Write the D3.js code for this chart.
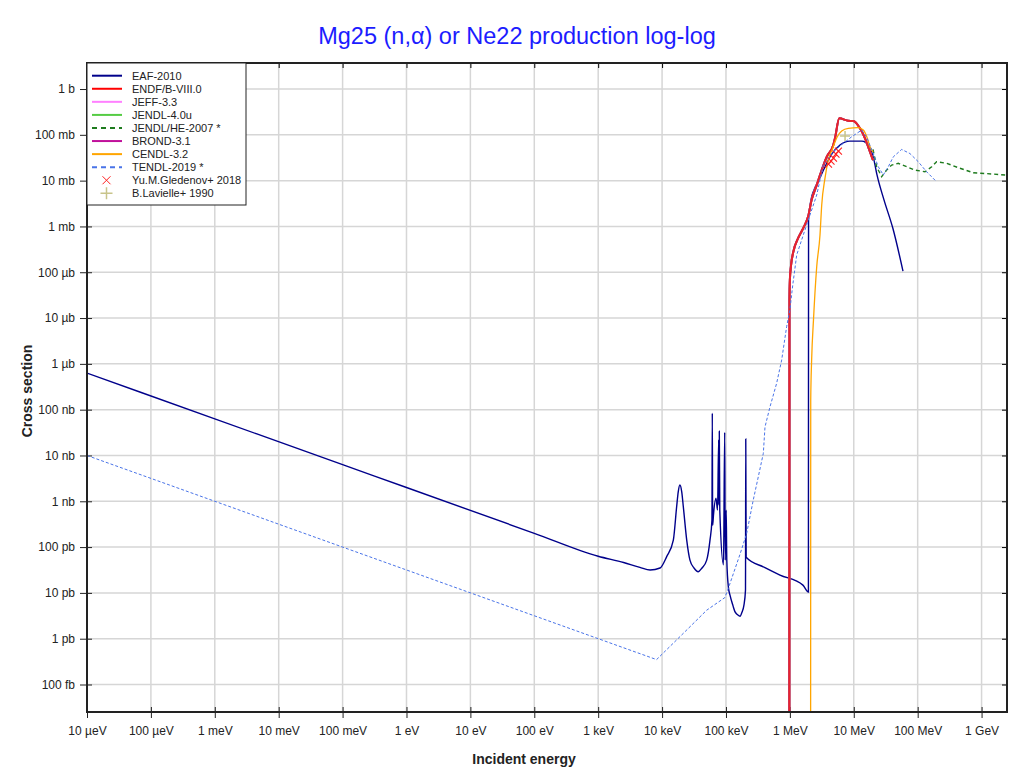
<!DOCTYPE html>
<html>
<head>
<meta charset="utf-8">
<script src="https://cdnjs.cloudflare.com/ajax/libs/d3/7.8.5/d3.min.js"></script>
<style>
	body { margin: 0; background: #fff; }
	text { font-family: "Liberation Sans", Arial, sans-serif; }
</style>
</head>
<body>
<script>
// energies in eV, cross sections in barn

// EAF-2010
var eafE = [1e-5, 1e-3, 1e-1, 1, 1e2, 1e3, 2.5e3, 4.5e3, 6.5e3, 9.3e3, 1.18e4, 1.50e4, 1.69e4, 1.79e4, 1.9e4, 2.03e4, 2.15e4, 2.43e4, 2.73e4,
	3.16e4, 3.68e4, 4.21e4, 4.99e4, 5.62e4, 6.03e4, 6.11e4, 6.19e4, 6.37e4, 6.98e4, 7.37e4, 7.69e4, 7.77e4, 7.86e4, 8.0e4,
	9.14e4, 9.55e4, 9.72e4, 1.007e5, 1.03e5, 1.09e5, 1.156e5, 1.29e5, 1.38e5, 1.49e5, 1.66e5, 1.78e5, 1.91e5, 2.02e5,
	2.04e5, 2.07e5, 4.0e5, 7.0e5, 1.6e6, 1.95e6, 1.96e6, 2.14e6, 2.38e6, 2.85e6, 3.42e6, 4.40e6, 6.08e6, 8.7e6, 1.34e7, 1.73e7,
	2.07e7, 2.31e7, 2.97e7, 4.10e7, 5.89e7];
var eafXs = [6.3e-7, 6.3e-8, 6.3e-9, 2.0e-9, 2.0e-10, 6.3e-11, 4.6e-11, 3.6e-11, 3.16e-11, 3.5e-11, 6.2e-11, 1.42e-10, 7.6e-10, 1.61e-9, 2.26e-9, 1.61e-9, 7.6e-10, 1.42e-10, 5.2e-11,
	3.5e-11, 2.9e-11, 3.5e-11, 5.2e-11, 1.42e-10, 3.9e-10, 8.4e-8, 3.0e-10, 5.0e-10, 1.17e-9, 6.4e-10, 2.2e-8, 8.3e-10, 3.4e-8, 6.4e-10,
	4.1e-11, 3.2e-8, 5.2e-11, 6.4e-10, 5.2e-11, 1.34e-11, 8.9e-12, 5.2e-12, 3.9e-12, 3.4e-12, 3.1e-12, 3.8e-12, 5.4e-12, 1.15e-11,
	2.3e-8, 6.0e-11, 3.6e-11, 2.45e-11, 1.48e-11, 1.04e-11, 1.38e-3, 3.8e-3, 6.2e-3, 1.03e-2, 1.79e-2, 3.6e-2, 6.0e-2, 7.3e-2, 7.3e-2, 5.7e-2,
	2.8e-2, 1.33e-2, 3.8e-3, 9.0e-4, 1.06e-4];

// ENDF/B-VIII.0
var endfE = [9.8e5, 9.85e5, 1.0e6, 1.04e6, 1.13e6, 1.35e6, 1.62e6, 1.94e6, 2.19e6, 2.63e6, 3.15e6, 3.77e6,
	4.78e6, 5.08e6, 5.93e6, 8.2e6, 9.8e6, 1.25e7, 1.50e7, 1.75e7, 2.0e7];
var endfXs = [1e-16, 2.5e-5, 6.8e-5, 1.37e-4, 2.76e-4, 5.6e-4, 9.2e-4, 1.69e-3, 3.8e-3, 8.0e-3, 1.70e-2, 3.3e-2,
	6.0e-2, 8.4e-2, 0.229, 0.203, 0.200, 0.139, 8.4e-2, 4.66e-2, 2.8e-2];

// JEFF-3.3, JENDL-4.0u and BROND-3.1 lie under ENDF/B-VIII.0
var jeffE = endfE, jeffXs = endfXs;
var jendlE = endfE, jendlXs = endfXs;
var brondE = endfE, brondXs = endfXs;

// JENDL/HE-2007
var jendlheE = [2.0e7, 2.28e7, 2.73e7, 3.27e7, 3.92e7, 4.98e7, 6.73e7, 9.08e7, 1.30e8, 1.66e8, 1.98e8, 2.84e8,
	4.59e8, 7.42e8, 1.52e9, 3.0e9];
var jendlheXs = [4.8e-2, 2.01e-2, 1.22e-2, 1.70e-2, 2.19e-2, 2.39e-2, 2.01e-2, 1.70e-2, 1.56e-2, 2.01e-2, 2.59e-2, 2.39e-2,
	1.86e-2, 1.49e-2, 1.39e-2, 1.29e-2];

// CENDL-3.2
var cendlE = [2.11e6, 2.12e6, 2.19e6, 2.34e6, 2.63e6, 2.96e6, 3.15e6, 3.54e6, 3.99e6, 4.68e6, 5.52e6, 6.47e6,
	8.2e6, 1.17e7, 1.41e7, 1.63e7, 1.79e7, 2.0e7];
var cendlXs = [1e-16, 1.6e-7, 1.21e-6, 9.0e-6, 1.32e-4, 6.5e-4, 2.93e-3, 1.12e-2, 2.8e-2, 5.1e-2, 9.1e-2, 0.121,
	0.139, 0.143, 0.127, 8.4e-2, 5.5e-2, 4.2e-2];

// TENDL-2019
var tendlE = [1e-5, 8.2e3, 2.15e4, 5.0e4, 9.6e4, 1.09e5, 1.66e5, 2.11e5, 2.67e5, 3.20e5, 3.84e5, 4.08e5, 4.89e5,
	6.2e5, 7.44e5, 8.9e5, 1.0e6, 1.11e6, 1.28e6, 1.62e6, 1.94e6, 2.63e6, 3.33e6, 4.78e6, 6.85e6, 9.3e6, 1.33e7,
	1.59e7, 2.02e7, 2.42e7, 2.90e7, 3.47e7, 4.15e7, 5.62e7, 7.57e7, 1.02e8, 1.38e8, 1.9e8];
var tendlXs = [1e-8, 3.5e-13, 1.31e-12, 4.2e-12, 7.9e-12, 1.27e-11, 7.0e-11, 2.0e-10, 1.06e-9, 3.4e-9, 1.11e-8, 4.2e-8, 1.16e-7,
	3.75e-7, 1.21e-6, 6.5e-6, 1.5e-5, 5.3e-5, 2.4e-4, 6.5e-4, 1.38e-3, 4.85e-3, 2.19e-2, 4.3e-2, 6.5e-2, 9.1e-2, 0.127,
	8.9e-2, 3.9e-2, 2.01e-2, 1.33e-2, 2.01e-2, 3.3e-2, 4.8e-2, 3.9e-2, 2.59e-2, 1.56e-2, 1.0e-2];

// experimental points
var gledenovE = [4.02e6, 4.40e6, 4.81e6, 5.26e6, 5.75e6];
var gledenovXs = [2.30e-2, 2.68e-2, 3.11e-2, 3.81e-2, 4.43e-2];
var lavielleE = [7.3e6];
var lavielleXs = [9.4e-2];

// axis ticks
var xTicks = [1e-5, 1e-4, 1e-3, 1e-2, 1e-1, 1, 10, 100, 1e3, 1e4, 1e5, 1e6, 1e7, 1e8, 1e9];
var xTickLabels = ["10 µeV", "100 µeV", "1 meV", "10 meV", "100 meV", "1 eV", "10 eV", "100 eV",
	"1 keV", "10 keV", "100 keV", "1 MeV", "10 MeV", "100 MeV", "1 GeV"];
var yTicks = [1, 1e-1, 1e-2, 1e-3, 1e-4, 1e-5, 1e-6, 1e-7, 1e-8, 1e-9, 1e-10, 1e-11, 1e-12, 1e-13];
var yTickLabels = ["1 b", "100 mb", "10 mb", "1 mb", "100 µb", "10 µb", "1 µb", "100 nb", "10 nb",
	"1 nb", "100 pb", "10 pb", "1 pb", "100 fb"];

var legendNames = ["EAF-2010", "ENDF/B-VIII.0", "JEFF-3.3", "JENDL-4.0u", "JENDL/HE-2007 *", "BROND-3.1",
	"CENDL-3.2", "TENDL-2019 *", "Yu.M.Gledenov+ 2018", "B.Lavielle+ 1990"];

//Define Margin
var margin = {left: 87, right: 13, top: 63, bottom: 62},
	width = 1020 - margin.left - margin.right,
	height = 774 - margin.top - margin.bottom;

var root = d3.select("body")
	.append("svg")
	.attr("width", 1020)
	.attr("height", 774);

var svg = root.append("g")
	.attr("transform", "translate(" + margin.left + "," + margin.top + ")");

// scales
var x = d3.scaleLog()
	.domain([1e-5, 2.5e9])
	.range([0, width]);

var y = d3.scaleLog()
	.domain([Math.pow(10, -13.6), Math.pow(10, 0.568)])
	.range([height, 0]);

// title
root.append("text")
	.attr("x", 517)
	.attr("y", 44)
	.attr("text-anchor", "middle")
	.style("font-size", "23.5px")
	.style("fill", "#1c1cff")
	.text("Mg25 (n,α) or Ne22 production log-log");

// grid
svg.append("g")
	.selectAll("line.vg")
	.data(xTicks)
	.enter()
	.append("line")
	.attr("x1", d => x(d)).attr("x2", d => x(d))
	.attr("y1", 0).attr("y2", height)
	.attr("stroke", "#d6d6d6")
	.attr("stroke-width", 1.5);

svg.append("g")
	.selectAll("line.hg")
	.data(yTicks)
	.enter()
	.append("line")
	.attr("x1", 0).attr("x2", width)
	.attr("y1", d => y(d)).attr("y2", d => y(d))
	.attr("stroke", "#d6d6d6")
	.attr("stroke-width", 1.5);

// axes
var xAxis = svg.append("g")
	.attr("transform", "translate(0," + height + ")")
	.call(d3.axisBottom(x).tickValues(xTicks).tickFormat((d, i) => xTickLabels[i]).tickSizeOuter(0).tickSize(6).tickPadding(8));

var yAxis = svg.append("g")
	.call(d3.axisLeft(y).tickValues(yTicks).tickFormat((d, i) => yTickLabels[i]).tickSizeOuter(0).tickSize(7).tickPadding(5));

xAxis.selectAll(".tick line").attr("y1", -5).attr("stroke", "#222");
yAxis.selectAll(".tick line").attr("x1", 5).attr("stroke", "#222");
xAxis.select(".domain").remove();
yAxis.select(".domain").remove();

[xAxis, yAxis].forEach(a => {
	a.selectAll("text")
		.style("font-size", "12px")
		.style("fill", "#222")
		.style("font-family", "'Liberation Sans', Arial, sans-serif");
});

// inner ticks on top and right
svg.append("g")
	.call(d3.axisTop(x).tickValues(xTicks).tickFormat("").tickSizeOuter(0).tickSize(-5))
	.call(g => g.select(".domain").remove());

svg.append("g")
	.attr("transform", "translate(" + width + ",0)")
	.call(d3.axisRight(y).tickValues(yTicks).tickFormat("").tickSizeOuter(0).tickSize(-5))
	.call(g => g.select(".domain").remove());

// clip for curves
svg.append("defs")
	.append("clipPath")
	.attr("id", "plotclip")
	.append("rect")
	.attr("width", width)
	.attr("height", height);

var line = d3.line()
	.x(d => x(d[0]))
	.y(d => y(d[1]));

var smooth = d3.line()
	.x(d => x(d[0]))
	.y(d => y(d[1]))
	.curve(d3.curveMonotoneX);

var series = [
	{e: eafE, xs: eafXs, color: "#00008b", w: 1.4, dash: null, gen: smooth},
	{e: jeffE, xs: jeffXs, color: "#ff80ff", w: 2, dash: null, gen: smooth},
	{e: jendlE, xs: jendlXs, color: "#55cc44", w: 2, dash: null, gen: smooth},
	{e: brondE, xs: brondXs, color: "#c0109a", w: 2, dash: null, gen: smooth},
	{e: endfE, xs: endfXs, color: "#e8242c", w: 2, dash: null, gen: smooth},
	{e: jendlheE, xs: jendlheXs, color: "#1e7b1e", w: 1.4, dash: "4,3", gen: line},
	{e: cendlE, xs: cendlXs, color: "#ffa500", w: 1.3, dash: null, gen: smooth},
	{e: tendlE, xs: tendlXs, color: "#4a74e8", w: 1, dash: "3,2", gen: line}
];

var curves = svg.append("g").attr("clip-path", "url(#plotclip)");

curves.selectAll("path")
	.data(series)
	.enter()
	.append("path")
	.attr("d", s => s.gen(d3.zip(s.e, s.xs)))
	.attr("fill", "none")
	.attr("stroke", s => s.color)
	.attr("stroke-width", s => s.w)
	.attr("stroke-dasharray", s => s.dash);

// Lavielle +
curves.selectAll("path.lav")
	.data(d3.zip(lavielleE, lavielleXs))
	.enter()
	.append("path")
	.attr("class", "lav")
	.attr("transform", d => "translate(" + x(d[0]) + "," + y(d[1]) + ")")
	.attr("d", "M-5,0H5M0,-5V5")
	.attr("stroke", "#c8c48a")
	.attr("stroke-width", 1.5)
	.attr("fill", "none");

// Gledenov x
curves.selectAll("path.gle")
	.data(d3.zip(gledenovE, gledenovXs))
	.enter()
	.append("path")
	.attr("class", "gle")
	.attr("transform", d => "translate(" + x(d[0]) + "," + y(d[1]) + ")")
	.attr("d", "M-3.5,-3.5L3.5,3.5M-3.5,3.5L3.5,-3.5")
	.attr("stroke", "#ff2020")
	.attr("stroke-width", 1.1)
	.attr("fill", "none");

// frame
svg.append("rect")
	.attr("width", width)
	.attr("height", height)
	.attr("fill", "none")
	.attr("stroke", "#222")
	.attr("stroke-width", 2);

// legend
var legendStyles = [
	{color: "#00008b", dash: null, mark: null},
	{color: "#ff0000", dash: null, mark: null},
	{color: "#ff80ff", dash: null, mark: null},
	{color: "#55cc44", dash: null, mark: null},
	{color: "#1e7b1e", dash: "5,4", mark: null},
	{color: "#c0109a", dash: null, mark: null},
	{color: "#ffa500", dash: null, mark: null},
	{color: "#4a74e8", dash: "5,4", mark: null},
	{color: "#ff2020", dash: null, mark: "x"},
	{color: "#c8c48a", dash: null, mark: "+"}
];

var legend = svg.append("g");

legend.append("rect")
	.attr("x", 0)
	.attr("y", 0)
	.attr("width", 159)
	.attr("height", 142)
	.attr("fill", "#fff")
	.attr("stroke", "#222")
	.attr("stroke-width", 1);

var rows = legend.selectAll("g.row")
	.data(legendNames)
	.enter()
	.append("g")
	.attr("transform", (d, i) => "translate(0," + (12.7 + i * 13.07) + ")");

rows.each(function(d, i) {
	var g = d3.select(this), st = legendStyles[i];
	if (st.mark == "x") {
		g.append("path").attr("d", "M15.5,-4L23.5,4M15.5,4L23.5,-4")
			.attr("stroke", st.color).attr("stroke-width", 1).attr("fill", "none");
	} else if (st.mark == "+") {
		g.append("path").attr("d", "M13.5,0H25.5M19.5,-6V6")
			.attr("stroke", st.color).attr("stroke-width", 1.5).attr("fill", "none");
	} else {
		g.append("line")
			.attr("x1", 5).attr("x2", 35)
			.attr("y1", 0).attr("y2", 0)
			.attr("stroke", st.color)
			.attr("stroke-width", 2)
			.attr("stroke-dasharray", st.dash);
	}
	g.append("text")
		.attr("x", 45)
		.attr("y", 4)
		.style("font-size", "11px")
		.style("fill", "#222")
		.text(d);
});

// axis titles
root.append("text")
	.attr("x", 524)
	.attr("y", 764)
	.attr("text-anchor", "middle")
	.style("font-size", "14px")
	.style("font-weight", "bold")
	.style("fill", "#222")
	.text("Incident energy");

root.append("text")
	.attr("transform", "translate(32,391) rotate(-90)")
	.attr("text-anchor", "middle")
	.style("font-size", "14px")
	.style("font-weight", "bold")
	.style("fill", "#222")
	.text("Cross section");
</script>
</body>
</html>
